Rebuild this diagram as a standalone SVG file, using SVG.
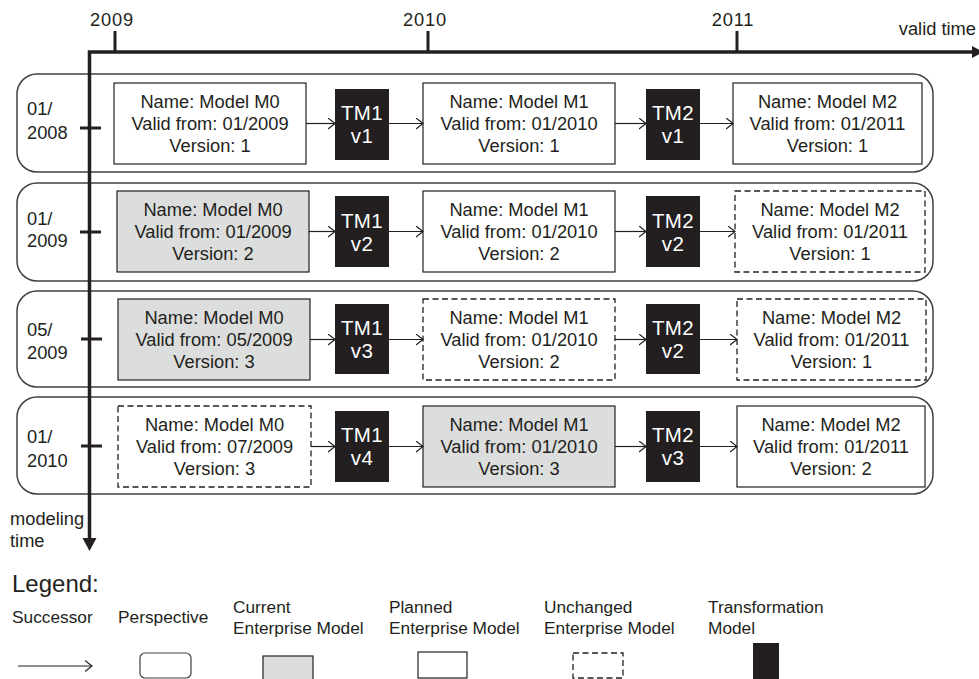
<svg xmlns="http://www.w3.org/2000/svg" width="979" height="679" viewBox="0 0 979 679">
<defs>
<style>
text{font-family:"Liberation Sans",Arial,sans-serif;fill:#231f20}
.bt{font-size:18.3px;text-anchor:middle}
.lb{font-size:18.3px}
.yr{font-size:18.3px;text-anchor:middle;letter-spacing:0.8px}
.tm{font-size:20.5px;text-anchor:middle;fill:#fff;letter-spacing:0.3px}
.lg{font-size:17.3px}
.persp{fill:#fff;stroke:#404040;stroke-width:1.5}
.em{fill:#fff;stroke:#231f20;stroke-width:1.2}
.cur{fill:#dcdddd;stroke:#231f20;stroke-width:1.2}
.unc{fill:#fff;stroke:#231f20;stroke-width:1.3;stroke-dasharray:6 3.5}
.tmb{fill:#231f20}
.con{stroke:#231f20;stroke-width:1.2;fill:none;marker-end:url(#oa)}
.axis{stroke:#231f20;stroke-width:3.5;fill:none}
.tick{stroke:#231f20;stroke-width:3}
</style>
<marker id="oa" viewBox="0 0 8 12" refX="7.5" refY="6" markerWidth="8" markerHeight="12" markerUnits="userSpaceOnUse" orient="auto">
<path d="M0.5,0.5 L7.5,6 L0.5,11.5" fill="none" stroke="#231f20" stroke-width="1.2"/>
</marker>
</defs>
<rect width="979" height="679" fill="#fff"/>

<!-- perspectives (background rows) -->
<g id="perspective-2008-01"><rect class="persp" x="17" y="74" width="916" height="98" rx="20"/>
<text class="lb" x="27" y="115">01/</text><text class="lb" x="27" y="139">2008</text></g>
<g id="perspective-2009-01"><rect class="persp" x="17" y="183" width="916" height="98" rx="20"/>
<text class="lb" x="27" y="225">01/</text><text class="lb" x="27" y="247">2009</text></g>
<g id="perspective-2009-05"><rect class="persp" x="17" y="291" width="916" height="96" rx="20"/>
<text class="lb" x="27" y="336">05/</text><text class="lb" x="27" y="359">2009</text></g>
<g id="perspective-2010-01"><rect class="persp" x="17" y="397" width="916" height="97" rx="20"/>
<text class="lb" x="27" y="443">01/</text><text class="lb" x="27" y="467">2010</text></g>

<!-- axes -->
<g id="axes">
<path class="axis" d="M89.5,540 V52 H972" stroke-linejoin="miter"/>
<polygon points="82.5,538 96.5,538 89.5,551" fill="#231f20"/>
<polygon points="972,46 983,52 972,58" fill="#231f20"/>
<line class="tick" x1="115" y1="31" x2="115" y2="52"/>
<line class="tick" x1="428" y1="31" x2="428" y2="52"/>
<line class="tick" x1="737" y1="31" x2="737" y2="52"/>
<text class="yr" x="112" y="25.5">2009</text>
<text class="yr" x="425" y="25.5">2010</text>
<text class="yr" x="733" y="25.5">2011</text>
<text class="lb" x="976" y="35" text-anchor="end">valid time</text>
<text class="lb" x="10" y="525">modeling</text>
<text class="lb" x="10" y="547">time</text>
<line class="tick" x1="80" y1="128" x2="101" y2="128"/>
<line class="tick" x1="80" y1="232" x2="101" y2="232"/>
<line class="tick" x1="81" y1="339" x2="102" y2="339"/>
<line class="tick" x1="81" y1="446" x2="102" y2="446"/>
</g>

<!-- row 1 -->
<g id="r1-m0"><rect class="em" x="114" y="83" width="192" height="81"/>
<text class="bt" x="210" y="107.7">Name: Model M0</text><text class="bt" x="210" y="129.7">Valid from: 01/2009</text><text class="bt" x="210" y="151.7">Version: 1</text></g>
<g id="r1-tm1"><rect class="tmb" x="335" y="89" width="54" height="71"/>
<text class="tm" x="362" y="119.5">TM1</text><text class="tm" x="362" y="142.5">v1</text></g>
<g id="r1-m1"><rect class="em" x="423" y="83" width="192" height="81"/>
<text class="bt" x="519" y="107.7">Name: Model M1</text><text class="bt" x="519" y="129.7">Valid from: 01/2010</text><text class="bt" x="519" y="151.7">Version: 1</text></g>
<g id="r1-tm2"><rect class="tmb" x="646" y="89" width="54" height="71"/>
<text class="tm" x="673" y="119.5">TM2</text><text class="tm" x="673" y="142.5">v1</text></g>
<g id="r1-m2"><rect class="em" x="733" y="83" width="189" height="81"/>
<text class="bt" x="827.5" y="107.7">Name: Model M2</text><text class="bt" x="827.5" y="129.7">Valid from: 01/2011</text><text class="bt" x="827.5" y="151.7">Version: 1</text></g>

<!-- row 2 -->
<g id="r2-m0"><rect class="cur" x="117" y="191" width="192" height="81"/>
<text class="bt" x="213" y="215.7">Name: Model M0</text><text class="bt" x="213" y="237.7">Valid from: 01/2009</text><text class="bt" x="213" y="259.7">Version: 2</text></g>
<g id="r2-tm1"><rect class="tmb" x="335" y="196" width="54" height="71"/>
<text class="tm" x="362" y="227.5">TM1</text><text class="tm" x="362" y="250.5">v2</text></g>
<g id="r2-m1"><rect class="em" x="423" y="191" width="192" height="81"/>
<text class="bt" x="519" y="215.7">Name: Model M1</text><text class="bt" x="519" y="237.7">Valid from: 01/2010</text><text class="bt" x="519" y="259.7">Version: 2</text></g>
<g id="r2-tm2"><rect class="tmb" x="646" y="196" width="54" height="71"/>
<text class="tm" x="673" y="227.5">TM2</text><text class="tm" x="673" y="250.5">v2</text></g>
<g id="r2-m2"><rect class="unc" x="735" y="191" width="190" height="81"/>
<text class="bt" x="830" y="215.7">Name: Model M2</text><text class="bt" x="830" y="237.7">Valid from: 01/2011</text><text class="bt" x="830" y="259.7">Version: 1</text></g>

<!-- row 3 -->
<g id="r3-m0"><rect class="cur" x="118" y="299" width="192" height="81"/>
<text class="bt" x="214" y="323.7">Name: Model M0</text><text class="bt" x="214" y="345.7">Valid from: 05/2009</text><text class="bt" x="214" y="367.7">Version: 3</text></g>
<g id="r3-tm1"><rect class="tmb" x="335" y="304" width="54" height="70"/>
<text class="tm" x="362" y="335">TM1</text><text class="tm" x="362" y="358">v3</text></g>
<g id="r3-m1"><rect class="unc" x="423" y="299" width="192" height="81"/>
<text class="bt" x="519" y="323.7">Name: Model M1</text><text class="bt" x="519" y="345.7">Valid from: 01/2010</text><text class="bt" x="519" y="367.7">Version: 2</text></g>
<g id="r3-tm2"><rect class="tmb" x="646" y="304" width="54" height="70"/>
<text class="tm" x="673" y="335">TM2</text><text class="tm" x="673" y="358">v2</text></g>
<g id="r3-m2"><rect class="unc" x="737" y="299" width="189" height="81"/>
<text class="bt" x="831.5" y="323.7">Name: Model M2</text><text class="bt" x="831.5" y="345.7">Valid from: 01/2011</text><text class="bt" x="831.5" y="367.7">Version: 1</text></g>

<!-- row 4 -->
<g id="r4-m0"><rect class="unc" x="118" y="406" width="193" height="81"/>
<text class="bt" x="214.5" y="430.7">Name: Model M0</text><text class="bt" x="214.5" y="452.7">Valid from: 07/2009</text><text class="bt" x="214.5" y="474.7">Version: 3</text></g>
<g id="r4-tm1"><rect class="tmb" x="335" y="411" width="54" height="71"/>
<text class="tm" x="362" y="442">TM1</text><text class="tm" x="362" y="465">v4</text></g>
<g id="r4-m1"><rect class="cur" x="423" y="406" width="192" height="81"/>
<text class="bt" x="519" y="430.7">Name: Model M1</text><text class="bt" x="519" y="452.7">Valid from: 01/2010</text><text class="bt" x="519" y="474.7">Version: 3</text></g>
<g id="r4-tm2"><rect class="tmb" x="646" y="411" width="54" height="71"/>
<text class="tm" x="673" y="442">TM2</text><text class="tm" x="673" y="465">v3</text></g>
<g id="r4-m2"><rect class="em" x="737" y="406" width="188" height="81"/>
<text class="bt" x="831" y="430.7">Name: Model M2</text><text class="bt" x="831" y="452.7">Valid from: 01/2011</text><text class="bt" x="831" y="474.7">Version: 2</text></g>

<!-- connectors -->
<g id="connectors">
<line class="con" x1="306" y1="123.5" x2="335" y2="123.5"/>
<line class="con" x1="389" y1="123.5" x2="423" y2="123.5"/>
<line class="con" x1="615" y1="123.5" x2="646" y2="123.5"/>
<line class="con" x1="700" y1="123.5" x2="733" y2="123.5"/>
<line class="con" x1="309" y1="231.5" x2="335" y2="231.5"/>
<line class="con" x1="389" y1="231.5" x2="423" y2="231.5"/>
<line class="con" x1="615" y1="231.5" x2="646" y2="231.5"/>
<line class="con" x1="700" y1="231.5" x2="735" y2="231.5"/>
<line class="con" x1="310" y1="339.5" x2="335" y2="339.5"/>
<line class="con" x1="389" y1="339.5" x2="423" y2="339.5"/>
<line class="con" x1="615" y1="339.5" x2="646" y2="339.5"/>
<line class="con" x1="700" y1="339.5" x2="737" y2="339.5"/>
<line class="con" x1="311" y1="446.5" x2="335" y2="446.5"/>
<line class="con" x1="389" y1="446.5" x2="423" y2="446.5"/>
<line class="con" x1="615" y1="446.5" x2="646" y2="446.5"/>
<line class="con" x1="700" y1="446.5" x2="737" y2="446.5"/>
</g>

<!-- legend -->
<g id="legend">
<text x="12" y="592" style="font-size:24px">Legend:</text>
<text class="lg" x="12" y="623">Successor</text>
<text class="lg" x="118" y="623">Perspective</text>
<text class="lg" x="233" y="613">Current</text><text class="lg" x="233" y="634">Enterprise Model</text>
<text class="lg" x="389" y="613">Planned</text><text class="lg" x="389" y="634">Enterprise Model</text>
<text class="lg" x="544" y="613">Unchanged</text><text class="lg" x="544" y="634">Enterprise Model</text>
<text class="lg" x="708" y="613">Transformation</text><text class="lg" x="708" y="634">Model</text>
<line class="con" x1="18" y1="666" x2="92" y2="666"/>
<rect class="persp" x="140" y="653" width="51" height="25" rx="5" style="stroke-width:1.2"/>
<rect class="cur" x="263" y="656" width="50" height="26"/>
<rect class="em" x="418" y="652" width="49" height="26"/>
<rect class="unc" x="573" y="653" width="50" height="25"/>
<rect class="tmb" x="753" y="643" width="26" height="38"/>
</g>
</svg>
